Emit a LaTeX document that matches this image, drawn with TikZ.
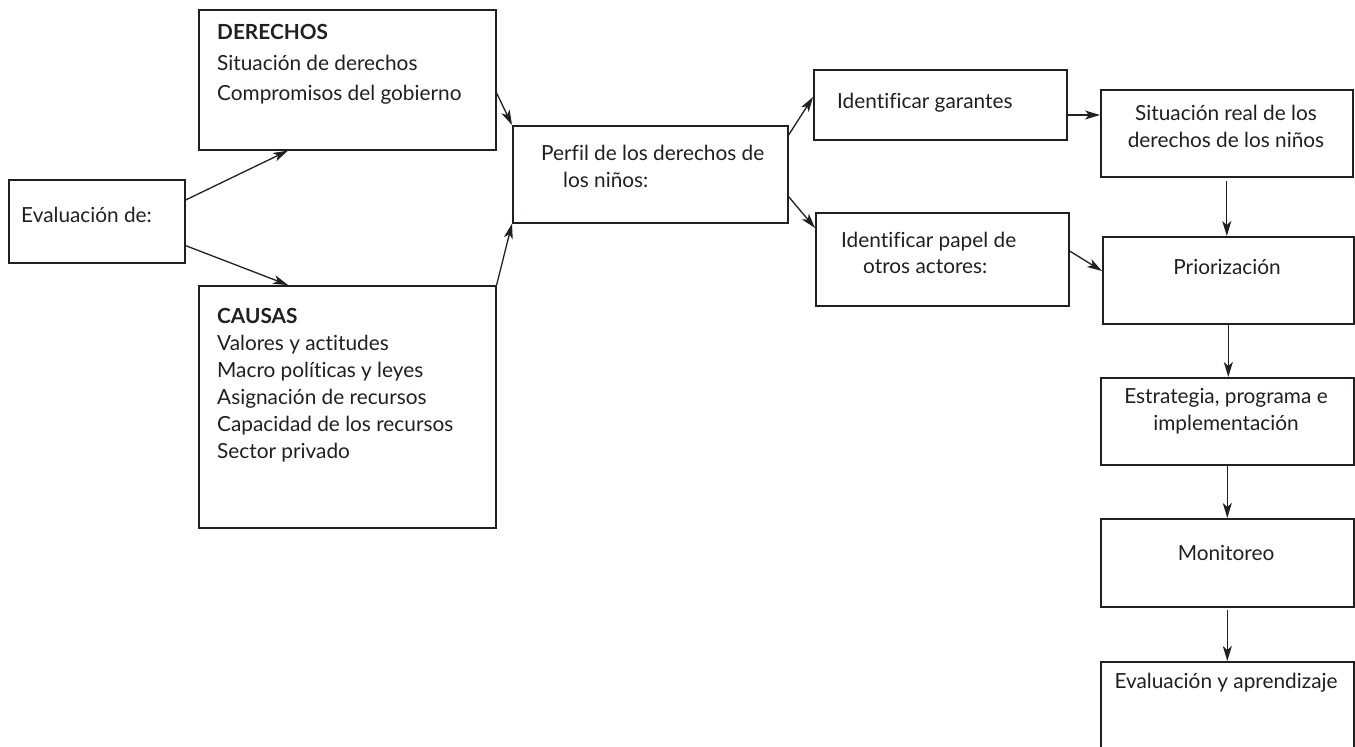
\documentclass[tikz,border=0pt]{standalone}
\usepackage{fontspec}
\setmainfont{Lato}[Ligatures={NoCommon}]
\usetikzlibrary{arrows.meta,calc}
\definecolor{ink}{RGB}{35,31,32}
\begin{document}
\begin{tikzpicture}[x=1pt,y=-1pt,
  box/.style={draw=ink,line width=1.6pt,anchor=north west,inner sep=0pt,rectangle},
  txt/.style={anchor=base west,inner sep=0pt,text=ink,font=\fontsize{20.8}{24}\selectfont},
  ctxt/.style={anchor=base,inner sep=0pt,text=ink,font=\fontsize{20.8}{24}\selectfont},
  arr/.style={draw=ink,line width=1.3pt,-{Stealth[length=15pt,width=9pt,inset=4pt]}}]
\useasboundingbox[fill=white] (0,0) rectangle (1355,747);
% boxes
\node[box,minimum width=176pt,minimum height=83pt] (eval) at (8,179) {};
\node[box,minimum width=297pt,minimum height=140pt] (der) at (198,9) {};
\node[box,minimum width=297pt,minimum height=242pt] (cau) at (198,285) {};
\node[box,minimum width=275pt,minimum height=97pt] (perf) at (512,125) {};
\node[box,minimum width=253pt,minimum height=70pt] (gar) at (813,69) {};
\node[box,minimum width=253pt,minimum height=93pt] (pap) at (815,212) {};
\node[box,minimum width=252pt,minimum height=87pt] (sit) at (1100,89) {};
\node[box,minimum width=251pt,minimum height=87pt] (pri) at (1102,236) {};
\node[box,minimum width=253pt,minimum height=87pt] (est) at (1100,377) {};
\node[box,minimum width=253pt,minimum height=88pt] (mon) at (1100,518) {};
\node[box,minimum width=253pt,minimum height=110pt] (eva) at (1100,661) {};
% texts
\node[txt] (t1) at (21,222) {Evaluación de:};
\node[txt] (t2) at (217,39) {\bfseries DERECHOS};
\node[txt] (t3) at (217,70) {Situación de derechos};
\node[txt] (t4) at (217,100) {Compromisos del gobierno};
\node[txt] (t5) at (217,323) {\bfseries CAUSAS};
\node[txt] (t6) at (217,350) {Valores y actitudes};
\node[txt] (t7) at (217,377) {Macro políticas y leyes};
\node[txt] (t8) at (217,404) {Asignación de recursos};
\node[txt] (t9) at (217,431) {Capacidad de los recursos};
\node[txt] (t10) at (217,458) {Sector privado};
\node[txt] (t11) at (541,160) {Perfil de los derechos de};
\node[txt] (t12) at (563,187) {los niños:};
\node[txt] (t13) at (837,108) {Identificar garantes};
\node[txt] (t14) at (841,247) {Identificar papel de};
\node[txt] (t15) at (863,273) {otros actores:};
\node[ctxt] (t16) at (1226,120) {Situación real de los};
\node[ctxt] (t17) at (1226,147) {derechos de los niños};
\node[ctxt] (t18) at (1227,274) {Priorización};
\node[ctxt] (t19) at (1226,403) {Estrategia, programa e};
\node[ctxt] (t20) at (1226,430) {implementación};
\node[ctxt] (t21) at (1226,560) {Monitoreo};
\node[ctxt] (t22) at (1226,688) {Evaluación y aprendizaje};
% connectors
\draw[arr] ([yshift=-21pt]eval.north east) -- ([xshift=90pt]der.south west);
\draw[arr] ([yshift=18pt]eval.south east) -- ([xshift=90pt]cau.north west);
\draw[arr] ([yshift=-84pt]der.north east) -- (perf.north west);
\draw[arr] (cau.north east) -- (perf.south west);
\draw[arr] ([yshift=-10pt]perf.north east) -- ([yshift=-28pt]gar.north west);
\draw[arr] ([yshift=27pt]perf.south east) -- ([yshift=-16pt]pap.north west);
\coordinate (g1) at ([yshift=-46pt]gar.north east);
\draw[arr] (g1) -- (g1 -| sit.west);
\draw[arr] ([yshift=-39pt]pap.north east) -- ([yshift=-35pt]pri.north west);
\coordinate (s1) at ([yshift=-3pt]sit.south);
\draw[arr] (s1) -- (s1 |- pri.north);
\draw[arr] (pri.south) -- (pri.south |- est.north);
\draw[arr] (est.south) -- (est.south |- mon.north);
\coordinate (m1) at ([yshift=-2pt]mon.south);
\draw[arr] (m1) -- (m1 |- eva.north);
\end{tikzpicture}
\end{document}
